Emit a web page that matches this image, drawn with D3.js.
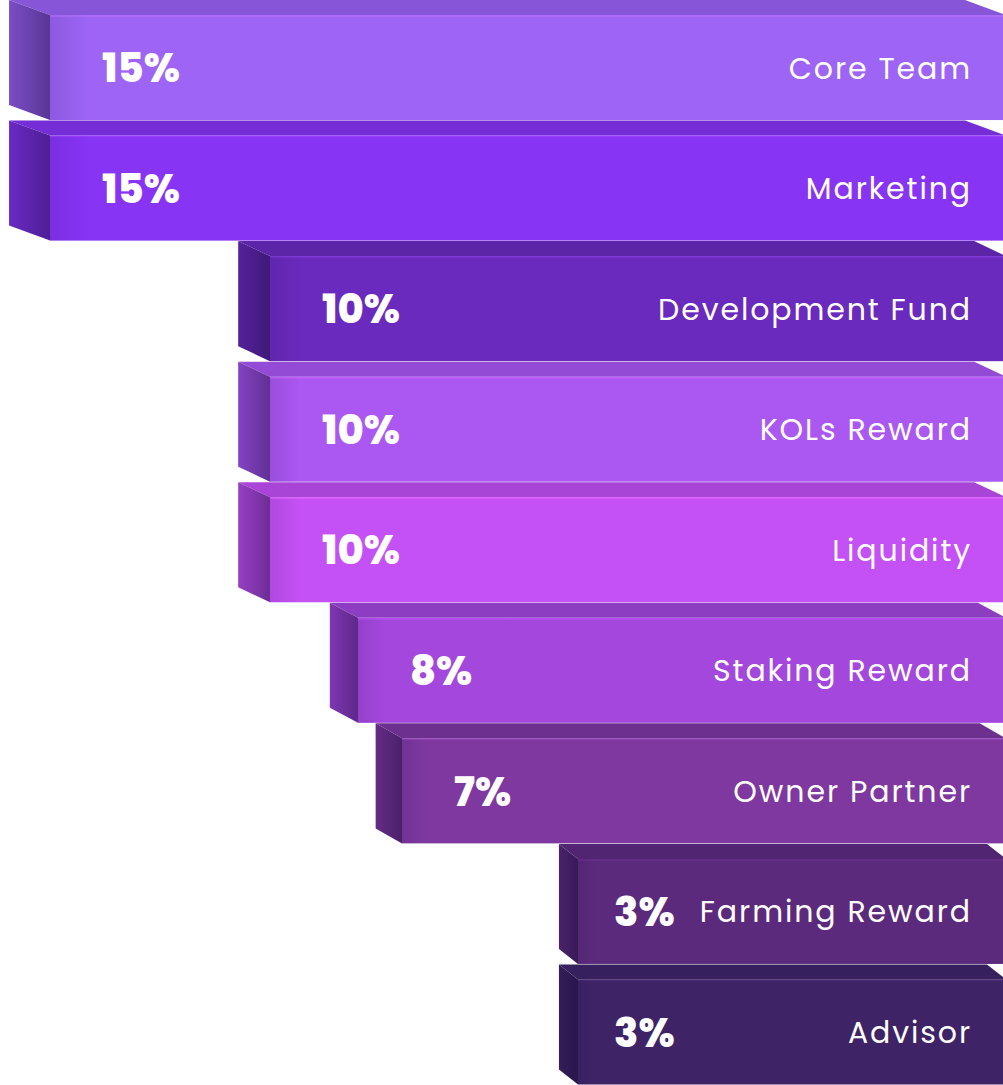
<!DOCTYPE html>
<html lang="en">
<head>
    <meta charset="UTF-8">
    <title>Token allocation</title>
    <style>
        body { margin: 0; background: #fff; }
        svg { display: block; }
    </style>
</head>
<body>

    <script src="https://cdn.jsdelivr.net/npm/d3@7"></script>
    <script>
        // Chart data
        const categories = ["Core Team", "Marketing", "Development Fund", "KOLs Reward",
            "Liquidity", "Staking Reward", "Owner Partner", "Farming Reward", "Advisor"];
        const shares = [15, 15, 10, 10, 10, 8, 7, 3, 3];
        const shareLabels = ["15%", "15%", "10%", "10%", "10%", "8%", "7%", "3%", "3%"];

        // Face colours, one per bar
        const barColors = ["#9d64f6", "#8734f5", "#6a2abd", "#ab57f2", "#c451f5",
            "#a447dd", "#7e38a0", "#5c2a7d", "#3e2466"];

        const width = 1003,
            height = 1085,
            rightEdge = 1006,
            topDepth = 15;

        const data = categories.map((c, i) => ({name: c, value: shares[i], label: shareLabels[i]}));

        // left edge of the front face comes from the share
        const x = d3.scaleLinear()
            .domain([0, 15])
            .range([710, 50]);

        const y = d3.scaleBand()
            .domain(categories)
            .range([0, height])
            .paddingInner(0);

        const color = d3.scaleOrdinal()
            .domain(categories)
            .range(barColors);

        // side depth shrinks towards the right, like a perspective
        const sideDepth = d => 0.0415 * (1037 - x(d.value));

        // darker shade that stays purple
        const shade = (c, t) => d3.interpolateLab(c, "#14002e")(t);

        const svg = d3.select("body").append("svg")
            .attr("width", width)
            .attr("height", height);

        const defs = svg.append("defs");

        data.forEach(function (d, i) {
            const base = color(d.name);
            const side = defs.append("linearGradient")
                .attr("id", "side" + i)
                .attr("x1", "0%").attr("x2", "100%");
            side.append("stop").attr("offset", "0%").attr("stop-color", shade(base, 0.22));
            side.append("stop").attr("offset", "100%").attr("stop-color", shade(base, 0.45));

            const front = defs.append("linearGradient")
                .attr("id", "front" + i)
                .attr("x1", "0%").attr("x2", "100%");
            front.append("stop").attr("offset", "0%").attr("stop-color", shade(base, 0.1));
            front.append("stop").attr("offset", "4%").attr("stop-color", base);
            front.append("stop").attr("offset", "100%").attr("stop-color", base);
        });

        const bar = svg.selectAll(".bar")
            .data(data)
            .enter()
            .append("g")
            .attr("class", "bar");

        // top face
        bar.append("path")
            .attr("d", function(d) {
                const x0 = x(d.value), y0 = y(d.name), dx = sideDepth(d);
                return "M" + (x0 - dx) + "," + y0 +
                    "L" + (rightEdge - dx) + "," + y0 +
                    "L" + rightEdge + "," + (y0 + topDepth) +
                    "L" + x0 + "," + (y0 + topDepth) + "Z";
            })
            .attr("fill", d => shade(color(d.name), 0.14));

        // left side face
        bar.append("path")
            .attr("d", function(d, i) {
                const x0 = x(d.value), y0 = y(d.name), dx = sideDepth(d),
                    y1 = y0 + y.bandwidth() - 0.5;
                return "M" + (x0 - dx) + "," + y0 +
                    "L" + x0 + "," + (y0 + topDepth) +
                    "L" + x0 + "," + y1 +
                    "L" + (x0 - dx) + "," + (y1 - topDepth) + "Z";
            })
            .attr("fill", (d, i) => "url(#side" + i + ")");

        // front face
        bar.append("rect")
            .attr("x", d => x(d.value))
            .attr("y", d => y(d.name) + topDepth)
            .attr("width", d => rightEdge - x(d.value))
            .attr("height", y.bandwidth() - topDepth - 0.5)
            .attr("fill", (d, i) => "url(#front" + i + ")");

        // thin highlight along the front top edge
        bar.append("line")
            .attr("x1", d => x(d.value))
            .attr("x2", rightEdge)
            .attr("y1", d => y(d.name) + topDepth + 1)
            .attr("y2", d => y(d.name) + topDepth + 1)
            .attr("stroke", d => d3.color(color(d.name)).brighter(0.6))
            .attr("stroke-opacity", 0.5)
            .attr("stroke-width", 1.5);

        const midY = d => y(d.name) + topDepth + (y.bandwidth() - topDepth) / 2;

        bar.append("text")
            .attr("x", d => x(d.value) + (d.value > 5 ? 52 : 36))
            .attr("y", midY)
            .attr("dy", "0.36em")
            .attr("fill", "#fff")
            .style("font-family", "Poppins, 'Open Sans', sans-serif")
            .style("font-weight", 800)
            .style("font-size", "40px")
            .text(d => d.label);

        bar.append("text")
            .attr("x", 972)
            .attr("y", midY)
            .attr("dy", "0.36em")
            .attr("text-anchor", "end")
            .attr("fill", "#fff")
            .style("font-family", "Poppins, 'Open Sans', sans-serif")
            .style("font-weight", 400)
            .style("font-size", "30px")
            .style("letter-spacing", "1.9px")
            .text(d => d.name);
    </script>
</body>
</html>
